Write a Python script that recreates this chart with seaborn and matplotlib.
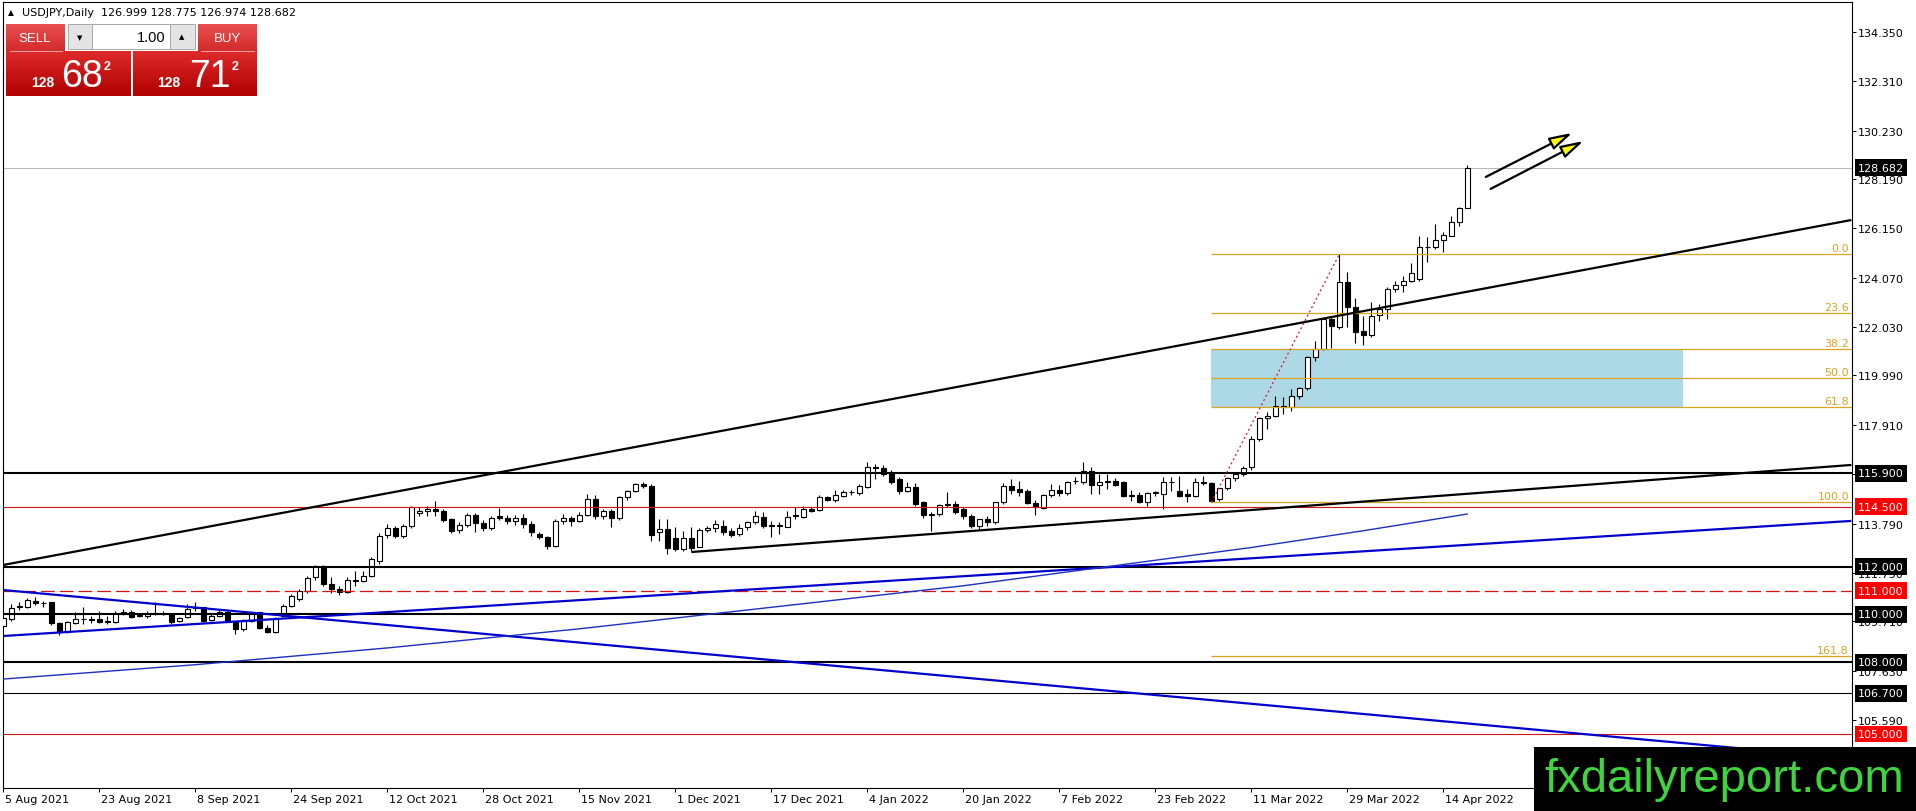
import numpy as np
import matplotlib
matplotlib.use("Agg")
import matplotlib.pyplot as plt
import matplotlib.transforms as mtransforms
from matplotlib.patches import Rectangle, FancyArrowPatch
from matplotlib.colors import LinearSegmentedColormap
import seaborn as sns

# ---- data (bar 0 = 5 Aug 2021) ----
header_text = "USDJPY,Daily  126.999 128.775 126.974 128.682"

opens = [109.53, 109.81, 110.30, 110.33, 110.58, 110.46, 110.51, 109.63, 109.28, 109.64,
         109.81, 109.80, 109.81, 109.74, 109.70, 110.06, 110.09, 109.94, 109.95, 110.05,
         110.02, 110.02, 109.74, 109.88, 110.30, 110.30, 109.78, 109.95, 110.09, 109.70,
         109.39, 109.74, 110.09, 109.42, 109.25, 109.95, 110.37, 110.64, 110.99, 111.55,
         112.04, 111.29, 111.05, 110.93, 111.44, 111.41, 111.62, 112.25, 113.32, 113.60,
         113.27, 113.68, 114.24, 114.31, 114.41, 114.34, 113.99, 113.54, 113.74, 114.16,
         113.82, 113.60, 114.10, 114.02, 113.92, 114.02, 113.78, 113.36, 113.22, 112.88,
         113.91, 114.02, 113.92, 114.16, 114.83, 114.13, 114.31, 114.02, 114.90, 115.18,
         115.45, 115.38, 113.43, 113.57, 113.18, 112.74, 113.18, 112.83, 113.53, 113.60,
         113.71, 113.50, 113.36, 113.64, 113.85, 114.06, 113.71, 113.71, 113.64, 114.13,
         114.09, 114.41, 114.38, 114.90, 114.80, 114.97, 115.11, 115.08, 115.34, 116.15,
         116.11, 115.91, 115.66, 115.18, 115.31, 114.69, 114.16, 114.20, 114.58, 114.62,
         114.41, 114.13, 113.68, 113.99, 113.85, 114.72, 115.36, 115.25, 115.18, 114.66,
         114.44, 114.99, 115.22, 115.08, 115.59, 115.52, 116.01, 115.41, 115.55, 115.59,
         115.52, 114.94, 114.99, 114.69, 115.08, 115.04, 115.52, 115.18, 115.04, 114.97,
         115.52, 115.50, 114.83, 115.27, 115.69, 115.87, 116.15, 117.34, 118.20, 118.31,
         118.73, 118.66, 119.15, 119.45, 120.78, 121.10, 122.35, 122.00, 123.88, 122.87,
         121.86, 121.68, 122.52, 122.77, 123.61, 123.77, 123.95, 124.02, 125.35, 125.35,
         125.67, 125.84, 126.39, 126.999]
highs = [109.90, 110.44, 110.51, 110.67, 110.72, 110.58, 110.53, 109.68, 109.72, 110.12,
         110.30, 109.95, 110.16, 109.95, 110.16, 110.23, 110.20, 110.02, 110.16, 110.51,
         110.16, 110.06, 109.88, 110.44, 110.53, 110.33, 110.00, 110.19, 110.14, 109.74,
         109.80, 110.10, 110.12, 109.55, 109.90, 110.45, 110.85, 111.07, 111.60, 112.08,
         112.08, 111.56, 111.20, 111.57, 111.80, 111.80, 112.40, 113.40, 113.80, 113.70,
         113.80, 114.55, 114.50, 114.55, 114.73, 114.40, 114.05, 113.85, 114.25, 114.25,
         113.95, 114.10, 114.47, 114.15, 114.15, 114.20, 113.90, 113.45, 113.30, 114.00,
         114.20, 114.13, 114.30, 115.04, 115.00, 114.40, 114.40, 114.95, 115.20, 115.50,
         115.52, 115.45, 113.99, 113.99, 113.64, 113.50, 113.64, 113.60, 113.71, 113.96,
         113.96, 113.60, 113.78, 113.90, 114.32, 114.30, 113.92, 113.85, 114.32, 114.48,
         114.55, 114.50, 115.00, 114.97, 115.22, 115.20, 115.22, 115.45, 116.36, 116.29,
         116.25, 116.05, 115.75, 115.52, 115.50, 114.75, 114.27, 114.62, 115.10, 114.76,
         114.50, 114.20, 114.00, 114.10, 114.70, 115.48, 115.66, 115.59, 115.25, 114.80,
         115.05, 115.45, 115.40, 115.60, 115.73, 116.36, 116.15, 115.87, 115.87, 115.69,
         115.60, 115.22, 115.10, 115.13, 115.18, 115.73, 115.73, 115.77, 115.24, 115.69,
         115.77, 115.55, 115.30, 115.75, 115.90, 116.20, 117.45, 118.24, 118.45, 119.15,
         119.08, 119.42, 119.50, 120.82, 121.42, 122.38, 122.49, 125.07, 124.30, 123.22,
         122.49, 123.08, 122.98, 123.68, 123.95, 124.16, 124.69, 125.81, 125.77, 126.32,
         126.00, 126.64, 127.02, 128.775]
lows = [109.45, 109.74, 110.20, 110.25, 110.40, 110.33, 109.58, 109.15, 109.22, 109.60,
        109.60, 109.64, 109.65, 109.60, 109.66, 109.98, 109.84, 109.88, 109.84, 109.98,
        109.98, 109.60, 109.70, 109.84, 110.16, 109.70, 109.72, 109.90, 109.67, 109.18,
        109.32, 109.70, 109.39, 109.22, 109.22, 109.88, 110.30, 110.58, 110.90, 111.45,
        111.20, 110.90, 110.82, 110.90, 111.20, 111.35, 111.55, 112.10, 113.20, 113.20,
        113.20, 113.60, 114.10, 114.10, 114.10, 113.85, 113.40, 113.40, 113.65, 113.43,
        113.50, 113.55, 113.95, 113.80, 113.75, 113.60, 113.30, 113.15, 112.72, 112.80,
        113.80, 113.70, 113.85, 114.10, 114.00, 114.00, 113.64, 113.95, 114.80, 115.10,
        115.30, 113.08, 113.08, 112.53, 112.67, 112.67, 112.67, 112.81, 113.43, 113.43,
        113.32, 113.25, 113.29, 113.55, 113.80, 113.60, 113.22, 113.36, 113.64, 113.99,
        114.05, 114.30, 114.34, 114.75, 114.72, 114.90, 115.00, 115.00, 115.30, 115.66,
        115.80, 115.45, 115.04, 115.10, 114.55, 114.02, 113.50, 114.10, 114.48, 114.20,
        114.00, 113.60, 113.57, 113.70, 113.80, 114.60, 115.05, 114.97, 114.60, 114.16,
        114.40, 114.90, 114.95, 115.00, 115.45, 115.45, 115.04, 115.04, 115.24, 115.38,
        114.90, 114.76, 114.65, 114.55, 114.97, 114.41, 115.18, 114.90, 114.71, 114.90,
        115.41, 114.69, 114.76, 115.20, 115.60, 115.80, 116.05, 117.25, 117.75, 118.24,
        118.40, 118.50, 119.00, 119.40, 120.61, 121.07, 121.12, 121.95, 122.00, 121.35,
        121.26, 121.60, 122.28, 122.35, 123.50, 123.47, 123.88, 123.95, 124.75, 125.28,
        125.14, 125.81, 126.23, 126.974]
closes = [109.84, 110.26, 110.34, 110.60, 110.46, 110.47, 109.63, 109.25, 109.67, 109.81,
          109.80, 109.78, 109.70, 109.70, 110.06, 110.09, 109.88, 109.96, 110.02, 110.06,
          110.02, 109.69, 109.86, 110.23, 110.28, 109.74, 109.95, 110.12, 109.70, 109.39,
          109.74, 110.09, 109.42, 109.25, 109.84, 110.37, 110.79, 110.99, 111.51, 112.04,
          111.29, 111.05, 110.93, 111.44, 111.41, 111.62, 112.30, 113.29, 113.60, 113.27,
          113.68, 114.48, 114.34, 114.41, 114.31, 113.96, 113.50, 113.74, 114.16, 113.82,
          113.60, 114.02, 114.02, 113.92, 114.02, 113.78, 113.43, 113.22, 112.88, 113.91,
          114.02, 113.91, 114.16, 114.83, 114.13, 114.31, 114.02, 114.90, 115.18, 115.45,
          115.38, 113.32, 113.57, 112.76, 112.74, 113.18, 112.76, 113.53, 113.60, 113.77,
          113.46, 113.32, 113.60, 113.85, 114.13, 113.71, 113.75, 113.71, 114.09, 114.16,
          114.41, 114.34, 114.90, 114.80, 114.99, 115.11, 115.14, 115.38, 116.15, 116.11,
          115.87, 115.55, 115.18, 115.31, 114.62, 114.16, 114.20, 114.58, 114.62, 114.27,
          114.13, 113.68, 113.99, 113.85, 114.69, 115.36, 115.22, 115.14, 114.66, 114.48,
          114.99, 115.22, 115.06, 115.54, 115.57, 116.01, 115.41, 115.52, 115.59, 115.41,
          114.94, 115.00, 114.69, 115.08, 115.10, 115.52, 115.55, 114.94, 114.94, 115.52,
          115.50, 114.76, 115.27, 115.69, 115.87, 116.11, 117.34, 118.20, 118.31, 118.73,
          118.66, 119.15, 119.45, 120.78, 121.10, 122.35, 122.07, 123.88, 122.87, 121.79,
          121.68, 122.49, 122.77, 123.61, 123.77, 123.95, 124.27, 125.35, 125.38, 125.67,
          125.86, 126.39, 126.98, 128.682]

date_labels = ["5 Aug 2021", "23 Aug 2021", "8 Sep 2021", "24 Sep 2021", "12 Oct 2021",
               "28 Oct 2021", "15 Nov 2021", "1 Dec 2021", "17 Dec 2021", "4 Jan 2022",
               "20 Jan 2022", "7 Feb 2022", "23 Feb 2022", "11 Mar 2022", "29 Mar 2022",
               "14 Apr 2022"]
bars_per_label = 12

price_ticks = [134.350, 132.310, 130.230, 128.190, 126.150, 124.070, 122.030, 119.990,
               117.910, 115.870, 113.790, 111.750, 109.710, 107.630, 105.590]

last_price = 128.682
black_levels = [115.900, 112.000, 110.000, 108.000]
thin_black_levels = [106.700]
red_levels = [114.500, 105.000]
red_dashed_levels = [111.000]

fib_low = 114.69
fib_high = 125.07
fib_start_bar = 151
fib_peak_bar = 167
fib_ratios = [0.0, 23.6, 38.2, 50.0, 61.8, 100.0, 161.8]
zone_end_bar = 210

upper_trend = [(0, 112.07), (231, 126.49)]
lower_trend = [(86, 112.61), (231, 116.25)]
blue_rising = [(0, 109.10), (231, 113.91)]
blue_falling = [(0, 111.02), (231, 103.98)]

ma_bars = [0, 24, 48, 72, 96, 120, 138, 156, 170, 183]
ma_values = [107.3, 107.9, 108.6, 109.4, 110.3, 111.2, 112.0, 112.8, 113.5, 114.2]

arrow_lines = [((185.3, 128.29), (196.1, 130.13)),
               ((185.9, 127.79), (197.5, 129.79))]

# ---- figure ----
W, H = 1916, 812
sns.set_style("white")
plt.rcParams["font.family"] = ["DejaVu Sans"]

fig = plt.figure(figsize=(W / 100, H / 100), dpi=100)
fig.patch.set_facecolor("white")
ax = fig.add_axes([3 / W, (H - 789) / H, 1849 / W, 786 / H])
ax.set_facecolor("white")
xmax = -0.05 + 1849 / 8
ax.set_xlim(-0.05, xmax)
ax.set_ylim(102.745, 135.604)

bars = np.arange(len(closes))
o = np.array(opens)
c = np.array(closes)
up = c >= o
body_lo = np.minimum(o, c)
body_h = np.maximum(np.abs(c - o), 0.012)

# fib zone in the background
fib_levels = [fib_high - r / 100 * (fib_high - fib_low) for r in fib_ratios]
ax.add_patch(Rectangle((fib_start_bar, fib_levels[4]), zone_end_bar - fib_start_bar,
                       fib_levels[2] - fib_levels[4], facecolor="#ADD8E6",
                       edgecolor="none", zorder=1))

# candles
ax.vlines(bars, lows, highs, color="black", lw=0.8, zorder=3)
ax.bar(bars[up], body_h[up], bottom=body_lo[up], width=0.58, color="white",
       edgecolor="black", linewidth=0.8, zorder=4)
ax.bar(bars[~up], body_h[~up], bottom=body_lo[~up], width=0.58, color="black",
       edgecolor="black", linewidth=0.8, zorder=4)

# horizontal levels
ax.axhline(last_price, color="#B8B8B8", lw=0.75, zorder=2)
for lv in black_levels:
    ax.axhline(lv, color="black", lw=1.5, zorder=5)
for lv in thin_black_levels:
    ax.axhline(lv, color="black", lw=0.8, zorder=5)
for lv in red_levels:
    ax.axhline(lv, color="#D01515", lw=0.8, zorder=5)
for lv in red_dashed_levels:
    ax.axhline(lv, color="#D01515", lw=0.9, dashes=(11, 4), zorder=5)

# fibonacci
gold = "#DAA520"
ax.hlines(fib_levels, fib_start_bar, xmax, color=gold, lw=0.9, zorder=5)
for r, lv in zip(fib_ratios, fib_levels):
    ax.annotate(f"{r:.1f}", xy=(1.0, lv), xycoords=("axes fraction", "data"),
                xytext=(-3, 1), textcoords="offset pixels", ha="right", va="bottom",
                fontsize=8, color=gold, zorder=6)
ax.plot([fib_start_bar, fib_peak_bar], [fib_low, fib_high], color="#DC143C",
        lw=0.9, dashes=(1.6, 2.2), zorder=5)

# trend lines
for line, col in [(upper_trend, "black"), (lower_trend, "black"),
                  (blue_rising, "#0000CD"), (blue_falling, "#0000CD")]:
    (x0, y0), (x1, y1) = line
    ax.plot([x0, x1], [y0, y1], color=col, lw=1.6, zorder=5, solid_capstyle="butt")

sns.lineplot(x=ma_bars, y=ma_values, ax=ax, color="#1E2FC0", lw=1.0, zorder=5)

for a, b in arrow_lines:
    ax.add_patch(FancyArrowPatch(a, b, arrowstyle="-|>,head_length=1.15,head_width=0.32",
                                 mutation_scale=12, facecolor="#FFFF00", edgecolor="black",
                                 linewidth=1.6, shrinkA=0, shrinkB=0, zorder=7))

# axes, ticks
for sp in ax.spines.values():
    sp.set_color("black")
    sp.set_linewidth(0.8)
ax.yaxis.tick_right()
ax.set_yticks(price_ticks, [f"{v:.3f}" for v in price_ticks])
ax.set_xticks(np.arange(len(date_labels)) * bars_per_label, date_labels)
ax.tick_params(axis="y", right=True, left=False, labelright=True, labelleft=False,
               length=3, width=0.7, pad=1.5, labelsize=8, colors="black", direction="out")
ax.tick_params(axis="x", bottom=True, length=3, width=0.7, pad=1.5, labelsize=8,
               colors="black", direction="out")
shift = mtransforms.ScaledTranslation(2 / 100, 0, fig.dpi_scale_trans)
for lbl in ax.get_xticklabels():
    lbl.set_horizontalalignment("left")
    lbl.set_transform(lbl.get_transform() + shift)
ax.set_xlabel("")
ax.set_ylabel("")


def price_tag(value, color):
    ax.annotate(f"{value:.3f}", xy=(1.0, value), xycoords=("axes fraction", "data"),
                xytext=(6, 0), textcoords="offset pixels", ha="left", va="center",
                fontsize=8, color="white", annotation_clip=False, zorder=10,
                bbox=dict(boxstyle="square,pad=0.3", fc=color, ec="none"))


price_tag(last_price, "black")
for lv in black_levels + thin_black_levels:
    price_tag(lv, "black")
for lv in red_levels + red_dashed_levels:
    price_tag(lv, "#FF0000")

# ---- overlay: header, trade panel, watermark (pixel coordinates) ----
ov = fig.add_axes([0, 0, 1, 1], zorder=20)
ov.axis("off")


def gradient_box(x0, y0, x1, y1, top, bottom):
    cmap = LinearSegmentedColormap.from_list("g", [top, bottom])
    grad = np.linspace(0, 1, 64).reshape(-1, 1)
    ov.imshow(grad, cmap=cmap, extent=(x0, x1, y1, y0), aspect="auto",
              interpolation="bilinear", zorder=2)


ov.text(11, 13, "▲", fontsize=5.5, ha="center", va="center", color="black")
ov.text(22, 13, header_text, fontsize=8, ha="left", va="center", color="black")

gradient_box(6, 25, 65, 52, "#EC5050", "#D22A2A")
gradient_box(198, 25, 257, 52, "#EC5050", "#D22A2A")
gradient_box(6, 52, 131, 97, "#DE2A2A", "#B00000")
gradient_box(133, 52, 257, 97, "#DE2A2A", "#B00000")
ov.plot([10, 62], [51.5, 51.5], color="#F39A9A", lw=0.8, zorder=3)
ov.plot([201, 254], [51.5, 51.5], color="#F39A9A", lw=0.8, zorder=3)
ov.add_patch(Rectangle((68, 25), 24, 25, fc="#E4E4E4", ec="#A8A8A8", lw=0.7, zorder=2))
ov.add_patch(Rectangle((92, 25), 78, 25, fc="white", ec="#A8A8A8", lw=0.7, zorder=2))
ov.add_patch(Rectangle((170, 25), 25, 25, fc="#E4E4E4", ec="#A8A8A8", lw=0.7, zorder=2))
ov.text(80, 38, "▼", fontsize=5, ha="center", va="center", color="black", zorder=4)
ov.text(182, 37, "▲", fontsize=5, ha="center", va="center", color="black", zorder=4)
ov.text(166, 38, "1.00", fontsize=10.5, ha="right", va="center", color="black",
        family="Liberation Sans", zorder=4)
ov.text(35, 38.5, "SELL", fontsize=9.5, ha="center", va="center", color="white",
        family="Liberation Sans", zorder=4)
ov.text(227, 38.5, "BUY", fontsize=9.5, ha="center", va="center", color="white",
        family="Liberation Sans", zorder=4)
for x_small, x_big, x_sup, big in [(31, 61, 104, "68"), (157, 189, 232, "71")]:
    ov.text(x_small, 87, "128", fontsize=10, weight="bold", ha="left", va="baseline",
            color="white", family="Liberation Sans", zorder=4)
    ov.text(x_big, 87, big, fontsize=27, ha="left", va="baseline", color="white",
            family="Liberation Sans", zorder=4)
    ov.text(x_sup, 70, "2", fontsize=9, weight="bold", ha="left", va="baseline",
            color="white", family="Liberation Sans", zorder=4)

ov.add_patch(Rectangle((1534, 748), W - 1534, H - 748, fc="black", ec="none", zorder=5))
ov.text(1724, 792, "fxdailyreport.com", fontsize=34, ha="center", va="baseline",
        color="#3ED43E", family="Liberation Sans", zorder=6)

ov.set_xlim(0, W)
ov.set_ylim(H, 0)

fig.savefig("out.png", dpi=100)
